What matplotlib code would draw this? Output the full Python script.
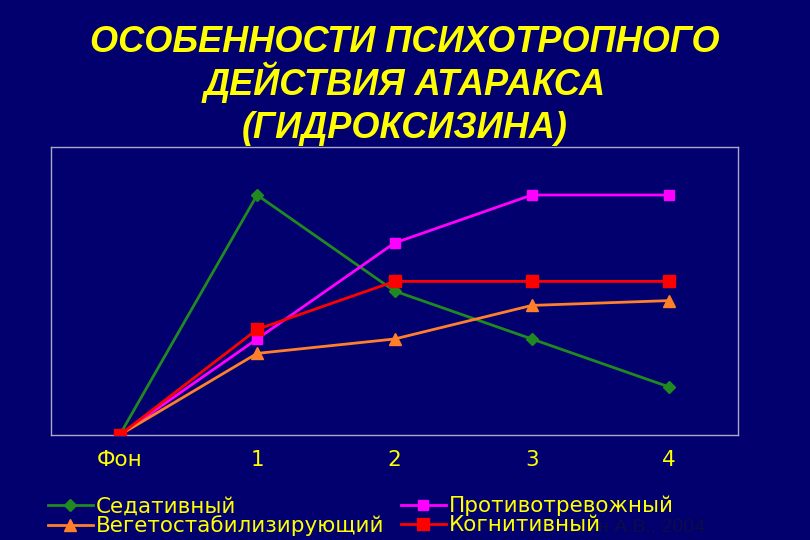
import matplotlib.pyplot as plt

plt.rcParams['font.family'] = ['Liberation Sans', 'DejaVu Sans']

# chart data
categories = ["Фон", "1", "2", "3", "4"]
sedative = [0, 5.0, 3.0, 2.0, 1.0]
anxiolytic = [0, 2.0, 4.0, 5.0, 5.0]
vegetative = [0, 1.7, 2.0, 2.7, 2.8]
cognitive = [0, 2.2, 3.2, 3.2, 3.2]

series = [
    ("Седативный", sedative, "#1f8a1f", "D", 6),
    ("Противотревожный", anxiolytic, "#ff00ff", "s", 7),
    ("Вегетостабилизирующий", vegetative, "#ff7f2a", "^", 8),
    ("Когнитивный", cognitive, "#ff0000", "s", 8),
]

bg = "#02006e"
yellow = "#ffff00"
frame = "#a8a8c8"

fig = plt.figure(figsize=(8.1, 5.4), dpi=100, facecolor=bg)
ax = fig.add_axes([51 / 810, 105 / 540, 687 / 810, 288 / 540], facecolor=bg)

x = list(range(len(categories)))
handles = []
for name, vals, col, mk, ms in series:
    h, = ax.plot(x, vals, color=col, marker=mk, markersize=ms, linewidth=2,
                 label=name, zorder=3)
    handles.append(h)

ax.set_xlim(-0.5, 4.5)
ax.set_ylim(0, 6)
ax.set_xticks(x)
ax.set_xticklabels(categories, color=yellow, fontsize=15.5, family="DejaVu Sans")
ax.set_yticks([])
ax.tick_params(axis="x", length=0, pad=11)
for s in ax.spines.values():
    s.set_color(frame)
    s.set_linewidth(1)

# title, one line at a time (baselines)
title_lines = ["ОСОБЕННОСТИ ПСИХОТРОПНОГО", "ДЕЙСТВИЯ АТАРАКСА", "(ГИДРОКСИЗИНА)"]
for i, line in enumerate(title_lines):
    fig.text(0.5, 1 - (52 + 43 * i) / 540, line, ha="center", va="baseline",
             color=yellow, fontsize=26, fontweight="bold", fontstyle="italic")

leg = fig.legend(handles=[handles[0], handles[2], handles[1], handles[3]],
                 loc="center left", bbox_to_anchor=(37 / 810, 1 - 516 / 540),
                 ncol=2, frameon=False, prop={"family": "DejaVu Sans", "size": 15.5},
                 handlelength=2.1, handletextpad=0.15, columnspacing=0.75,
                 labelspacing=-0.05, borderpad=0)
for t in leg.get_texts():
    t.set_color(yellow)

# faint author credit, partly hidden behind the legend as in the slide
fig.text(563 / 810, 1 - 527 / 540, "Вейн А.В., 2004", color="#0c0c48",
         fontsize=14, va="center", ha="left", zorder=5)

fig.savefig("out.png", dpi=100, facecolor=bg)
